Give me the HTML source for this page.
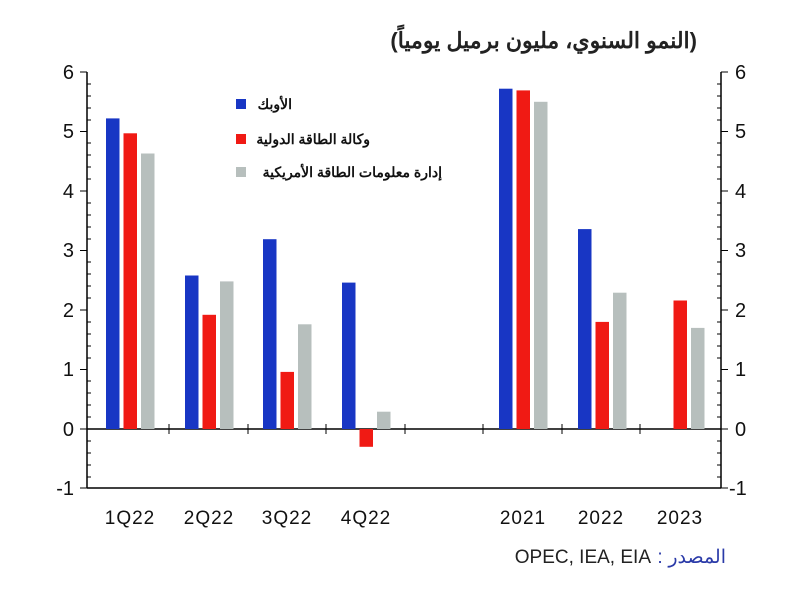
<!DOCTYPE html>
<html><head><meta charset="utf-8"><style>body{margin:0;background:#fff}</style></head><body>
<svg width="800" height="600" xmlns="http://www.w3.org/2000/svg" font-family="Liberation Sans, Noto Sans CJK SC, sans-serif">
<rect width="800" height="600" fill="#fff"/>
<text x="697" y="48" text-anchor="end" font-size="22" font-weight="bold" fill="#222">(النمو السنوي، مليون برميل يومياً)</text>
<g stroke="#000" stroke-width="1.5">
<line x1="87" y1="72" x2="87" y2="488"/>
<line x1="721" y1="72" x2="721" y2="488"/>
<line x1="87" y1="488" x2="721" y2="488"/>
<line x1="87" y1="429" x2="721" y2="429"/>
</g>
<g stroke="#000" stroke-width="1">
<path d="M80 72H87M80 131.5H87M80 191H87M80 250.5H87M80 310H87M80 369.5H87M80 429H87M80 488H87
M721 72H728M721 131.5H728M721 191H728M721 250.5H728M721 310H728M721 369.5H728M721 429H728M721 488H728"/>
<path d="M87 84H91M87 96H91M87 108H91M87 120H91M87 143H91M87 155H91M87 167H91M87 179H91M87 203H91M87 215H91M87 227H91M87 239H91M87 262H91M87 274H91M87 286H91M87 298H91M87 322H91M87 334H91M87 346H91M87 358H91M87 381H91M87 393H91M87 405H91M87 417H91M87 441H91M87 453H91M87 465H91M87 477H91
M717 84H721M717 96H721M717 108H721M717 120H721M717 143H721M717 155H721M717 167H721M717 179H721M717 203H721M717 215H721M717 227H721M717 239H721M717 262H721M717 274H721M717 286H721M717 298H721M717 322H721M717 334H721M717 346H721M717 358H721M717 381H721M717 393H721M717 405H721M717 417H721M717 441H721M717 453H721M717 465H721M717 477H721"/>
<path d="M169 424V434M248 424V434M326 424V434M405 424V434M483 424V434M562 424V434M640 424V434"/>
</g>
<g font-size="20" fill="#111" text-anchor="end">
<text x="74" y="79">6</text><text x="74" y="138">5</text><text x="74" y="198">4</text><text x="74" y="257">3</text><text x="74" y="317">2</text><text x="74" y="376">1</text><text x="74" y="436">0</text><text x="74" y="495">-1</text>
</g>
<g font-size="20" fill="#111">
<text x="735" y="79">6</text><text x="735" y="138">5</text><text x="735" y="198">4</text><text x="735" y="257">3</text><text x="735" y="317">2</text><text x="735" y="376">1</text><text x="735" y="436">0</text><text x="729" y="495">-1</text>
</g>
<g font-size="19" fill="#111" text-anchor="middle" letter-spacing="1">
<text x="130" y="524">1Q22</text><text x="209" y="524">2Q22</text><text x="287" y="524">3Q22</text><text x="366" y="524">4Q22</text>
<text x="523" y="524">2021</text><text x="601" y="524">2022</text><text x="680" y="524">2023</text>
</g>
<g fill="#1836c4">
<rect x="106" y="118.4" width="13.5" height="310.6"/>
<rect x="185" y="275.5" width="13.5" height="153.5"/>
<rect x="263" y="239.2" width="13.5" height="189.8"/>
<rect x="342" y="282.6" width="13.5" height="146.4"/>
<rect x="499" y="88.7" width="13.5" height="340.3"/>
<rect x="578" y="229.1" width="13.5" height="199.9"/>
</g>
<g fill="#f01a14">
<rect x="123.5" y="133.3" width="13.5" height="295.7"/>
<rect x="202.5" y="314.8" width="13.5" height="114.2"/>
<rect x="280.5" y="371.9" width="13.5" height="57.1"/>
<rect x="359.5" y="429" width="13.5" height="17.8"/>
<rect x="516.5" y="90.4" width="13.5" height="338.6"/>
<rect x="595.5" y="321.9" width="13.5" height="107.1"/>
<rect x="673.5" y="300.5" width="13.5" height="128.5"/>
</g>
<g fill="#b7bfbd">
<rect x="141" y="153.5" width="13.5" height="275.5"/>
<rect x="220" y="281.4" width="13.5" height="147.6"/>
<rect x="298" y="324.3" width="13.5" height="104.7"/>
<rect x="377" y="411.7" width="13.5" height="17.3"/>
<rect x="534" y="101.8" width="13.5" height="327.2"/>
<rect x="613" y="292.7" width="13.5" height="136.3"/>
<rect x="691" y="327.9" width="13.5" height="101.1"/>
</g>
<rect x="236" y="99" width="10" height="10" fill="#1836c4"/>
<rect x="236" y="134" width="10" height="10" fill="#f01a14"/>
<rect x="236" y="167" width="10" height="10" fill="#b7bfbd"/>
<text x="292" y="109" font-size="14" font-weight="bold" fill="#111" text-anchor="end">الأوبك</text>
<text x="370" y="144" font-size="14" font-weight="bold" fill="#111" text-anchor="end">وكالة الطاقة الدولية</text>
<text x="442" y="177" font-size="14" font-weight="bold" fill="#111" text-anchor="end">إدارة معلومات الطاقة الأمريكية</text>
<text x="726" y="563" font-size="19" fill="#2a3aa8" text-anchor="end">المصدر</text>
<text x="660" y="563" font-size="19" fill="#2a3aa8" text-anchor="middle">:</text>
<text x="651" y="563" font-size="19" fill="#222" text-anchor="end">OPEC, IEA, EIA</text>
</svg>
</body></html>
